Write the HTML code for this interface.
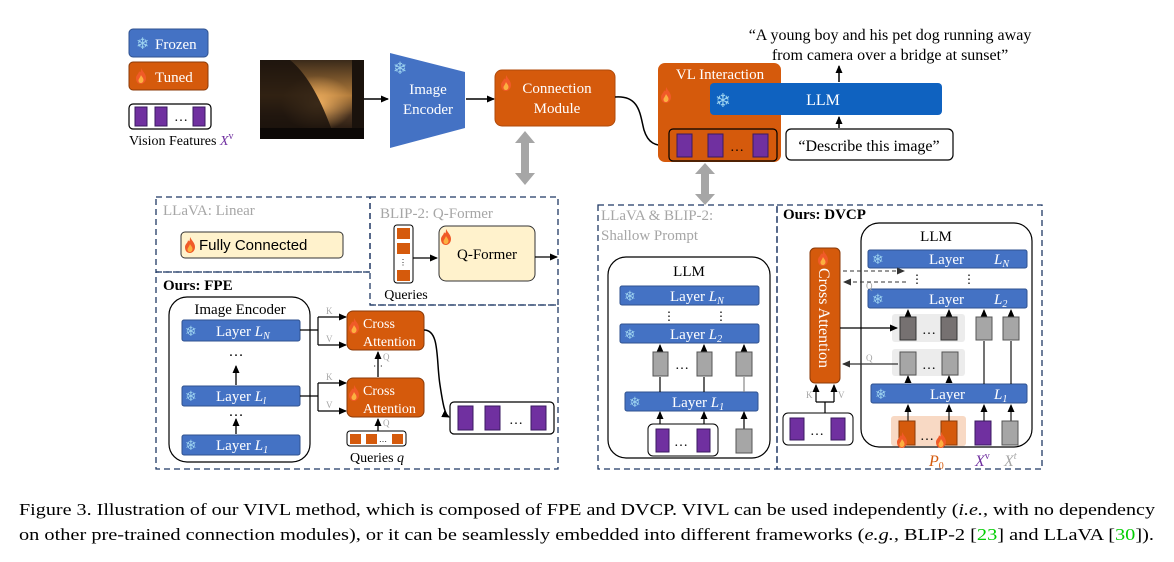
<!DOCTYPE html>
<html><head><meta charset="utf-8"><style>
html,body{margin:0;padding:0;background:#fff;}
svg{display:block;}
svg text{font-family:"Liberation Serif","Times New Roman",Times,Tinos,serif;}
svg text.sans{font-family:"Liberation Sans",Arial,sans-serif;}
svg text.sf{font-family:"DejaVu Sans",sans-serif;}
</style></head><body>
<svg width="1174" height="562" viewBox="0 0 1174 562" xmlns="http://www.w3.org/2000/svg" font-family="Liberation Serif, Times New Roman, serif">
<defs>
<marker id="a" markerWidth="8" markerHeight="8" refX="7" refY="4" orient="auto" markerUnits="userSpaceOnUse"><path d="M0,0.5 L8,4 L0,7.5 z" fill="#000"/></marker>
<marker id="ag" markerWidth="8" markerHeight="8" refX="7" refY="4" orient="auto" markerUnits="userSpaceOnUse"><path d="M0,0.5 L8,4 L0,7.5 z" fill="#333"/></marker>
<linearGradient id="ph" x1="0" y1="0" x2="0" y2="1"><stop offset="0" stop-color="#3a2a1a"/><stop offset="0.45" stop-color="#b07a3a"/><stop offset="0.7" stop-color="#4a3320"/><stop offset="1" stop-color="#120c08"/></linearGradient>
<radialGradient id="sun" cx="0.55" cy="0.55" r="0.35"><stop offset="0" stop-color="#f0b060"/><stop offset="1" stop-color="#f0b060" stop-opacity="0"/></radialGradient>
<g id="fire"><path d="M5,0 C7,4 10,6 10,10 C10,14 7,16 5,16 C2,16 0,14 0,10 C0,7 3,6 3,3 C4,5 5,5 5,0z" fill="#f05a28"/><path d="M5,7 C6,9 7.5,10 7.5,12 C7.5,14 6,15 5,15 C3.5,15 2.5,14 2.5,12.5 C2.5,11 4,10 5,7z" fill="#fbb040"/></g>
</defs>

<!-- legend -->
<rect x="129" y="29" width="79" height="28" rx="4" fill="#4472c4" stroke="#2f528f"/>
<text class="sf" x="136" y="49" font-size="16" fill="#9dd3f0">❄</text>
<text x="155" y="49" font-size="15" fill="#fff">Frozen</text>
<rect x="129" y="62" width="79" height="28" rx="4" fill="#d55a0c" stroke="#8a3a08"/>
<use href="#fire" x="136" y="68"/>
<text x="155" y="82" font-size="15" fill="#fff">Tuned</text>
<rect x="129" y="104" width="82" height="25" rx="4" fill="#fff" stroke="#000" stroke-width="1.2"/>
<rect x="135" y="107" width="12" height="19" fill="#7030a0" stroke="#3a1a60"/>
<rect x="155" y="107" width="12" height="19" fill="#7030a0" stroke="#3a1a60"/>
<text x="174" y="121" font-size="14">…</text>
<rect x="193" y="107" width="12" height="19" fill="#7030a0" stroke="#3a1a60"/>
<text x="129" y="145" font-size="14">Vision Features <tspan fill="#7030a0" font-style="italic">X</tspan><tspan fill="#7030a0" font-size="10" dy="-6">v</tspan></text>

<!-- photo -->
<rect x="260" y="60" width="104" height="79" fill="url(#ph)"/>
<rect x="260" y="60" width="104" height="79" fill="url(#sun)"/>
<path d="M260,60 L290,60 Q315,80 335,139 L260,139z" fill="#1a120c" opacity="0.85"/>
<rect x="352" y="60" width="12" height="79" fill="#1a120c"/>
<rect x="260" y="128" width="104" height="11" fill="#0c0806"/>
<line x1="364" y1="99" x2="388" y2="99" stroke="#000" stroke-width="1.5" marker-end="url(#a)"/>

<!-- image encoder -->
<path d="M390,53 L465,72 L465,128 L390,148z" fill="#4472c4"/>
<text class="sf" x="393" y="74" font-size="17" fill="#9dd3f0">❄</text>
<text x="428" y="94" font-size="15" fill="#fff" text-anchor="middle">Image</text>
<text x="428" y="114" font-size="15" fill="#fff" text-anchor="middle">Encoder</text>
<line x1="466" y1="99" x2="494" y2="99" stroke="#000" stroke-width="1.5" marker-end="url(#a)"/>

<!-- connection module -->
<rect x="495" y="70" width="120" height="56" rx="7" fill="#d55a0c" stroke="#b04a0a"/>
<use href="#fire" x="501" y="75"/>
<text x="557" y="93" font-size="15" fill="#fff" text-anchor="middle">Connection</text>
<text x="557" y="113" font-size="15" fill="#fff" text-anchor="middle">Module</text>
<path d="M615,97 C640,95 640,115 644,130 C648,143 655,146 668,146" fill="none" stroke="#000" stroke-width="1.5" marker-end="url(#a)"/>
<path d="M525,131 L535,143 L529,143 L529,173 L535,173 L525,185 L515,173 L521,173 L521,143 L515,143z" fill="#a6a6a6"/>
<path d="M705,163 L715,174 L709,174 L709,194 L715,194 L705,205 L695,194 L701,194 L701,174 L695,174z" fill="#a6a6a6"/>

<!-- VL interaction -->
<rect x="658" y="63" width="123" height="99" rx="7" fill="#d55a0c"/>
<text x="720" y="79" font-size="15" fill="#fff" text-anchor="middle">VL Interaction</text>
<use href="#fire" x="661" y="87"/>
<rect x="710" y="83" width="232" height="32" rx="4" fill="#0f62c0"/>
<text class="sf" x="715" y="107" font-size="19" fill="#9dd3f0">❄</text>
<text x="823" y="105" font-size="16" fill="#fff" text-anchor="middle">LLM</text>
<rect x="669" y="129" width="108" height="32" rx="4" fill="#d55a0c" stroke="#000" stroke-width="1.2"/>
<rect x="677" y="134" width="15" height="23" fill="#7030a0" stroke="#3a1a60"/>
<rect x="708" y="134" width="15" height="23" fill="#7030a0" stroke="#3a1a60"/>
<text x="730" y="151" font-size="14">…</text>
<rect x="753" y="134" width="15" height="23" fill="#7030a0" stroke="#3a1a60"/>
<rect x="786" y="129" width="167" height="31" rx="5" fill="#fff" stroke="#000" stroke-width="1.2"/>
<text x="869" y="151" font-size="16" text-anchor="middle">“Describe this image”</text>
<line x1="839" y1="128" x2="839" y2="117" stroke="#000" stroke-width="1.5" marker-end="url(#a)"/>
<line x1="839" y1="82" x2="839" y2="66" stroke="#000" stroke-width="1.5" marker-end="url(#a)"/>
<text x="890" y="40" font-size="16" text-anchor="middle">“A young boy and his pet dog running away</text>
<text x="890" y="60" font-size="16" text-anchor="middle">from camera over a bridge at sunset”</text>

<!-- dashed frames -->
<g fill="none" stroke="#1f3864" stroke-width="1.3" stroke-dasharray="6,4">
<rect x="156" y="197" width="214" height="75"/>
<path d="M370,197 L558,197 L558,305 L370,305 L370,197"/>
<path d="M156,272 L370,272 M370,305 L558,305 L558,469 L156,469 L156,272"/>
<rect x="598" y="205" width="179" height="264"/>
<rect x="777" y="205" width="265" height="264"/>
</g>

<!-- LLaVA linear -->
<text x="163" y="215" font-size="15" fill="#a6a6a6">LLaVA: Linear</text>
<rect x="181" y="232" width="162" height="26" rx="4" fill="#fff2cc" stroke="#333"/>
<use href="#fire" x="185" y="237"/>
<text class="sans" x="199" y="250" font-size="15">Fully Connected</text>

<!-- BLIP -->
<text x="380" y="218" font-size="15" fill="#a6a6a6">BLIP-2: Q-Former</text>
<rect x="394" y="225" width="19" height="58" rx="3" fill="#fff" stroke="#000"/>
<rect x="397" y="228" width="13" height="11" fill="#d55a0c"/>
<rect x="397" y="243" width="13" height="11" fill="#d55a0c"/>
<text x="403" y="265" font-size="8" text-anchor="middle">⋮</text>
<rect x="397" y="270" width="13" height="11" fill="#d55a0c"/>
<line x1="413" y1="258" x2="437" y2="258" stroke="#000" stroke-width="1.3" marker-end="url(#a)"/>
<rect x="439" y="226" width="96" height="55" rx="7" fill="#fff2cc" stroke="#333"/>
<use href="#fire" x="441" y="229"/>
<text x="487" y="259" font-size="15" text-anchor="middle">Q-Former</text>
<line x1="535" y1="257" x2="557" y2="257" stroke="#000" stroke-width="1.3" marker-end="url(#a)"/>
<text x="406" y="299" font-size="14" text-anchor="middle">Queries</text>

<!-- FPE -->
<text x="163" y="290" font-size="15" font-weight="bold">Ours: FPE</text>
<rect x="169" y="297" width="141" height="165" rx="18" fill="#fff" stroke="#000" stroke-width="1.2"/>
<text x="240" y="314" font-size="15" text-anchor="middle">Image Encoder</text>
<g font-size="15" fill="#fff">
<rect x="182" y="320" width="118" height="21" rx="2" fill="#4472c4" stroke="#2f528f"/>
<text class="sf" x="185" y="336" font-size="14" fill="#9dd3f0">❄</text><text x="216" y="336">Layer <tspan font-style="italic">L</tspan><tspan font-style="italic" font-size="10" dy="3">N</tspan></text>
<rect x="182" y="386" width="118" height="20" rx="2" fill="#4472c4" stroke="#2f528f"/>
<text class="sf" x="185" y="401" font-size="14" fill="#9dd3f0">❄</text><text x="216" y="401">Layer <tspan font-style="italic">L</tspan><tspan font-style="italic" font-size="10" dy="3">l</tspan></text>
<rect x="182" y="435" width="118" height="20" rx="2" fill="#4472c4" stroke="#2f528f"/>
<text class="sf" x="185" y="450" font-size="14" fill="#9dd3f0">❄</text><text x="216" y="450">Layer <tspan font-style="italic">L</tspan><tspan font-style="italic" font-size="10" dy="3">1</tspan></text>
</g>
<text x="236" y="356" font-size="15" text-anchor="middle">…</text>
<text x="236" y="416" font-size="15" text-anchor="middle">…</text>
<line x1="236" y1="385" x2="236" y2="366" stroke="#000" stroke-width="1.3" marker-end="url(#a)"/>
<line x1="236" y1="434" x2="236" y2="419" stroke="#000" stroke-width="1.3" marker-end="url(#a)"/>
<g stroke="#000" stroke-width="1.2" fill="none">
<path d="M300,330 L318,330 M318,317 L318,345"/>
<path d="M300,396 L318,396 M318,383 L318,411"/>
</g>
<g stroke="#000" stroke-width="1.2">
<line x1="318" y1="317" x2="346" y2="317" marker-end="url(#a)"/>
<line x1="318" y1="345" x2="346" y2="345" marker-end="url(#a)"/>
<line x1="318" y1="383" x2="346" y2="383" marker-end="url(#a)"/>
<line x1="318" y1="411" x2="346" y2="411" marker-end="url(#a)"/>
</g>
<g font-size="9" fill="#a6a6a6"><text x="326" y="314">K</text><text x="326" y="342">V</text><text x="326" y="380">K</text><text x="326" y="408">V</text><text x="383" y="360">Q</text><text x="383" y="426">Q</text></g>
<rect x="347" y="311" width="77" height="39" rx="6" fill="#d55a0c" stroke="#8a3a08"/>
<use href="#fire" x="349" y="318"/>
<text x="363" y="328" font-size="14" fill="#fff">Cross</text><text x="363" y="346" font-size="14" fill="#fff">Attention</text>
<rect x="347" y="378" width="77" height="39" rx="6" fill="#d55a0c" stroke="#8a3a08"/>
<use href="#fire" x="349" y="385"/>
<text x="363" y="395" font-size="14" fill="#fff">Cross</text><text x="363" y="413" font-size="14" fill="#fff">Attention</text>
<line x1="378" y1="377" x2="378" y2="352" stroke="#000" stroke-width="1.3" marker-end="url(#a)"/>
<text x="378" y="369" font-size="10" text-anchor="middle" fill="#000">⋯</text>
<line x1="378" y1="431" x2="378" y2="419" stroke="#000" stroke-width="1.3" marker-end="url(#a)"/>
<rect x="347" y="431" width="59" height="15" rx="3" fill="#fff" stroke="#000"/>
<rect x="350" y="434" width="11" height="10" fill="#d55a0c"/><rect x="366" y="434" width="11" height="10" fill="#d55a0c"/>
<text x="379" y="442" font-size="8">…</text><rect x="392" y="434" width="11" height="10" fill="#d55a0c"/>
<text x="350" y="462" font-size="14">Queries <tspan font-style="italic">q</tspan></text>
<path d="M424,330 C440,330 436,360 440,385 C443,405 445,415 449,417" fill="none" stroke="#000" stroke-width="1.5" marker-end="url(#a)"/>
<rect x="450" y="402" width="104" height="32" rx="4" fill="#fff" stroke="#000" stroke-width="1.2"/>
<rect x="458" y="406" width="15" height="24" fill="#7030a0" stroke="#3a1a60"/>
<rect x="485" y="406" width="15" height="24" fill="#7030a0" stroke="#3a1a60"/>
<text x="509" y="424" font-size="14">…</text>
<rect x="531" y="406" width="15" height="24" fill="#7030a0" stroke="#3a1a60"/>

<!-- Shallow prompt -->
<text x="601" y="220" font-size="15" fill="#a6a6a6">LLaVA &amp; BLIP-2:</text>
<text x="601" y="240" font-size="15" fill="#a6a6a6">Shallow Prompt</text>
<rect x="608" y="257" width="162" height="201" rx="18" fill="#fff" stroke="#000" stroke-width="1.2"/>
<text x="689" y="276" font-size="15" text-anchor="middle">LLM</text>
<g font-size="15" fill="#fff">
<rect x="620" y="286" width="139" height="19" rx="2" fill="#4472c4" stroke="#2f528f"/>
<text class="sf" x="624" y="301" font-size="14" fill="#9dd3f0">❄</text><text x="670" y="301">Layer <tspan font-style="italic">L</tspan><tspan font-style="italic" font-size="10" dy="3">N</tspan></text>
<rect x="620" y="324" width="139" height="19" rx="2" fill="#4472c4" stroke="#2f528f"/>
<text class="sf" x="624" y="339" font-size="14" fill="#9dd3f0">❄</text><text x="670" y="339">Layer <tspan font-style="italic">L</tspan><tspan font-style="italic" font-size="10" dy="3">2</tspan></text>
<rect x="625" y="392" width="133" height="19" rx="2" fill="#4472c4" stroke="#2f528f"/>
<text class="sf" x="629" y="407" font-size="14" fill="#9dd3f0">❄</text><text x="672" y="407">Layer <tspan font-style="italic">L</tspan><tspan font-style="italic" font-size="10" dy="3">1</tspan></text>
</g>
<text x="669" y="320" font-size="12" text-anchor="middle">⋮</text><text x="721" y="320" font-size="12" text-anchor="middle">⋮</text>
<g stroke="#000" stroke-width="1.2">
<line x1="660" y1="392" x2="660" y2="377"/><line x1="704" y1="392" x2="704" y2="377"/><line x1="744" y1="392" x2="744" y2="377" stroke="#888"/>
<line x1="660" y1="352" x2="660" y2="345" marker-end="url(#a)"/><line x1="704" y1="352" x2="704" y2="345" marker-end="url(#a)"/><line x1="744" y1="352" x2="744" y2="345" marker-end="url(#a)"/>
<line x1="660" y1="429" x2="660" y2="412" marker-end="url(#a)"/><line x1="704" y1="429" x2="704" y2="412" marker-end="url(#a)"/><line x1="744" y1="429" x2="744" y2="412" marker-end="url(#a)"/>
</g>
<rect x="653" y="352" width="15" height="24" fill="#a6a6a6" stroke="#555"/>
<text x="675" y="369" font-size="14">…</text>
<rect x="697" y="352" width="15" height="24" fill="#a6a6a6" stroke="#555"/>
<rect x="736" y="352" width="16" height="24" fill="#a6a6a6" stroke="#555"/>
<rect x="648" y="424" width="70" height="32" rx="5" fill="#fff" stroke="#000"/>
<rect x="656" y="429" width="13" height="23" fill="#7030a0" stroke="#3a1a60"/>
<text x="674" y="446" font-size="14">…</text>
<rect x="697" y="429" width="13" height="23" fill="#7030a0" stroke="#3a1a60"/>
<rect x="736" y="429" width="16" height="24" fill="#a6a6a6" stroke="#555"/>

<!-- DVCP -->
<text x="783" y="219" font-size="15" font-weight="bold">Ours: DVCP</text>
<rect x="861" y="223" width="171" height="224" rx="18" fill="#fff" stroke="#000" stroke-width="1.2"/>
<text x="936" y="241" font-size="15" text-anchor="middle">LLM</text>
<g font-size="15" fill="#fff">
<rect x="868" y="250" width="159" height="18" rx="2" fill="#4472c4" stroke="#2f528f"/>
<text class="sf" x="872" y="264" font-size="14" fill="#9dd3f0">❄</text><text x="929" y="264">Layer</text><text x="994" y="264" font-style="italic">L<tspan font-size="10" dy="3">N</tspan></text>
<rect x="868" y="289" width="159" height="19" rx="2" fill="#4472c4" stroke="#2f528f"/>
<text class="sf" x="872" y="304" font-size="14" fill="#9dd3f0">❄</text><text x="929" y="304">Layer</text><text x="994" y="304" font-style="italic">L<tspan font-size="10" dy="3">2</tspan></text>
<rect x="871" y="384" width="156" height="19" rx="2" fill="#4472c4" stroke="#2f528f"/>
<text class="sf" x="875" y="399" font-size="14" fill="#9dd3f0">❄</text><text x="930" y="399">Layer</text><text x="994" y="399" font-style="italic">L<tspan font-size="10" dy="3">1</tspan></text>
</g>
<text x="917" y="283" font-size="12" text-anchor="middle">⋮</text><text x="969" y="283" font-size="12" text-anchor="middle">⋮</text>
<rect x="892" y="314" width="73" height="28" rx="3" fill="#ececec"/>
<rect x="892" y="349" width="73" height="27" rx="3" fill="#ececec"/>
<rect x="891" y="416" width="75" height="30" rx="3" fill="#f8d9c4"/>
<g stroke="#000" stroke-width="1.1">
<line x1="908" y1="316" x2="908" y2="310" marker-end="url(#a)"/><line x1="949" y1="316" x2="949" y2="310" marker-end="url(#a)"/>
<line x1="984" y1="316" x2="984" y2="310" marker-end="url(#a)"/><line x1="1011" y1="316" x2="1011" y2="310" marker-end="url(#a)"/>
<line x1="908" y1="383" x2="908" y2="376" marker-end="url(#a)"/><line x1="949" y1="383" x2="949" y2="376" marker-end="url(#a)"/>
<line x1="984" y1="384" x2="984" y2="341"/><line x1="1011" y1="384" x2="1011" y2="341"/>
<line x1="908" y1="421" x2="908" y2="405" marker-end="url(#a)"/><line x1="949" y1="421" x2="949" y2="405" marker-end="url(#a)"/>
<line x1="984" y1="421" x2="984" y2="405" marker-end="url(#a)"/><line x1="1011" y1="421" x2="1011" y2="405" marker-end="url(#a)"/>
</g>
<rect x="900" y="317" width="16" height="23" fill="#767171" stroke="#333"/>
<text x="922" y="334" font-size="14">…</text>
<rect x="941" y="317" width="16" height="23" fill="#767171" stroke="#333"/>
<rect x="976" y="317" width="16" height="23" fill="#a6a6a6" stroke="#555"/>
<rect x="1003" y="317" width="16" height="23" fill="#a6a6a6" stroke="#555"/>
<rect x="900" y="352" width="16" height="23" fill="#a6a6a6" stroke="#555"/>
<text x="922" y="369" font-size="14">…</text>
<rect x="942" y="352" width="16" height="23" fill="#a6a6a6" stroke="#555"/>
<rect x="899" y="421" width="16" height="24" fill="#d55a0c" stroke="#8a3a08"/>
<text x="920" y="440" font-size="14">…</text>
<rect x="941" y="421" width="16" height="24" fill="#d55a0c" stroke="#8a3a08"/>
<use href="#fire" x="897" y="432"/>
<use href="#fire" x="936" y="432"/>
<rect x="975" y="421" width="16" height="24" fill="#7030a0" stroke="#3a1a60"/>
<rect x="1002" y="421" width="16" height="24" fill="#a6a6a6" stroke="#555"/>
<text x="929" y="466" font-size="16" fill="#d55a0c" font-style="italic">P<tspan font-size="10" dy="3" font-style="normal">0</tspan></text>
<text x="975" y="466" font-size="16" fill="#7030a0" font-style="italic">X<tspan font-size="10" dy="-7" font-style="normal">v</tspan></text>
<text x="1004" y="466" font-size="16" fill="#a6a6a6" font-style="italic">X<tspan font-size="10" dy="-7">t</tspan></text>
<rect x="810" y="248" width="30" height="135" rx="5" fill="#d55a0c" stroke="#8a3a08"/>
<use href="#fire" x="818" y="250"/>
<text transform="translate(819,268) rotate(90)" font-size="16" fill="#fff">Cross Attention</text>
<g stroke="#333" stroke-width="1.1" stroke-dasharray="4,3">
<line x1="843" y1="271" x2="904" y2="271" marker-end="url(#ag)"/>
<line x1="906" y1="282" x2="844" y2="282" marker-end="url(#ag)"/>
</g>
<text x="866" y="289" font-size="9" fill="#a6a6a6">Q</text>
<line x1="840" y1="328" x2="897" y2="328" stroke="#000" stroke-width="1.2" marker-end="url(#a)"/>
<line x1="898" y1="364" x2="843" y2="364" stroke="#333" stroke-width="1.2" marker-end="url(#ag)"/>
<text x="866" y="361" font-size="9" fill="#a6a6a6">Q</text>
<g stroke="#000" stroke-width="1.2" fill="none">
<path d="M825,413 L825,402 M816,402 L834,402"/>
<line x1="816" y1="402" x2="816" y2="385" marker-end="url(#a)"/>
<line x1="834" y1="402" x2="834" y2="385" marker-end="url(#a)"/>
</g>
<text x="806" y="398" font-size="9" fill="#a6a6a6">K</text><text x="838" y="398" font-size="9" fill="#a6a6a6">V</text>
<rect x="783" y="413" width="70" height="32" rx="5" fill="#fff" stroke="#000"/>
<rect x="790" y="418" width="14" height="22" fill="#7030a0" stroke="#3a1a60"/>
<text x="810" y="435" font-size="14">…</text>
<rect x="831" y="418" width="14" height="22" fill="#7030a0" stroke="#3a1a60"/>

<!-- caption -->
<text x="19" y="515" font-size="17" textLength="1136" lengthAdjust="spacingAndGlyphs">Figure 3. Illustration of our VIVL method, which is composed of FPE and DVCP. VIVL can be used independently (<tspan font-style="italic">i.e.</tspan>, with no dependency</text>
<text x="19" y="540" font-size="17" textLength="1135" lengthAdjust="spacingAndGlyphs">on other pre-trained connection modules), or it can be seamlessly embedded into different frameworks (<tspan font-style="italic">e.g.</tspan>, BLIP-2 [<tspan fill="#00cc00">23</tspan>] and LLaVA [<tspan fill="#00cc00">30</tspan>]).</text>
</svg>
</body></html>
